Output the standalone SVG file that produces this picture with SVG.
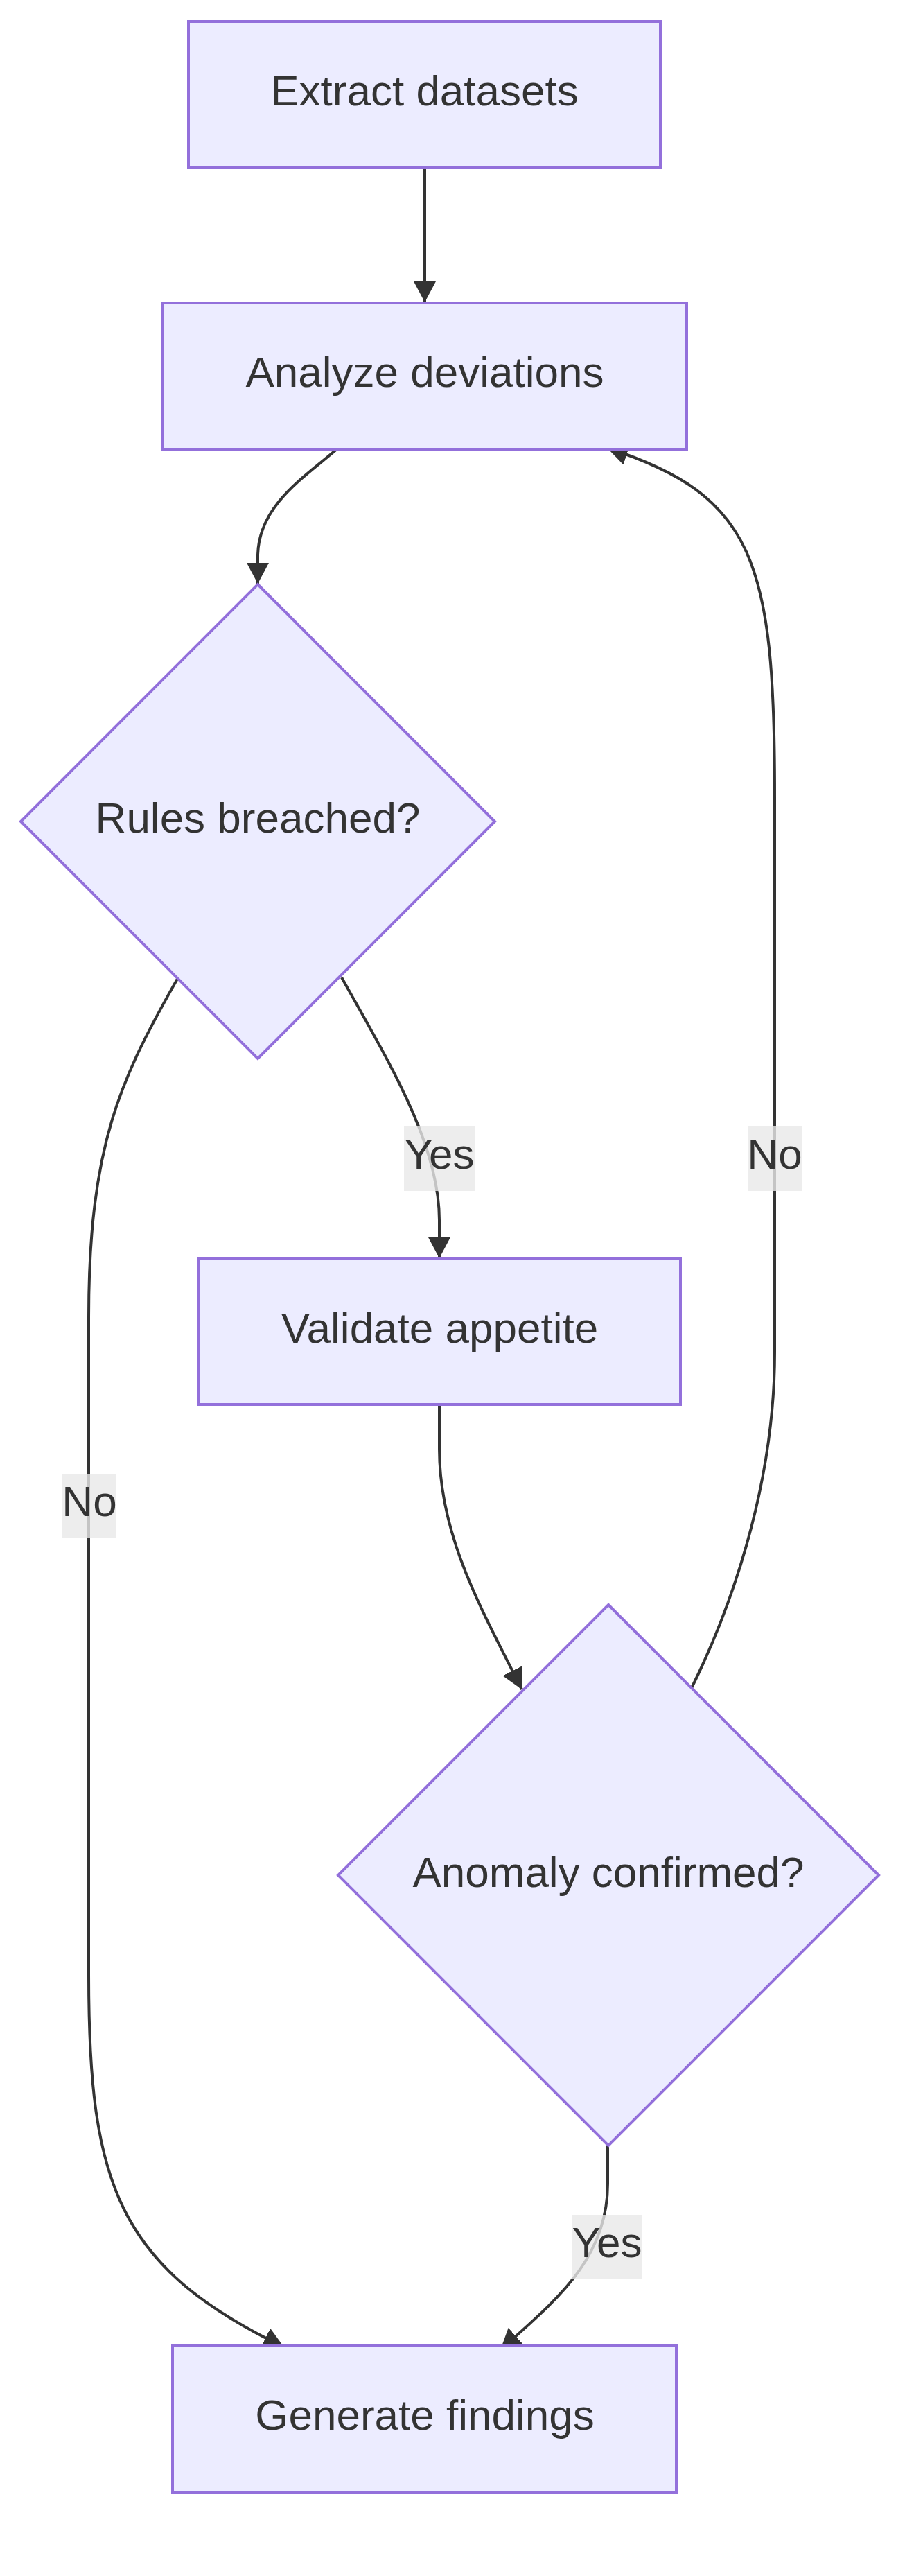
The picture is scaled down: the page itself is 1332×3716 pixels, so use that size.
<svg xmlns="http://www.w3.org/2000/svg" width="1332" height="3716" viewBox="0 0 1332 3716">
<style>
.node rect, .node polygon { fill: #ECECFF; stroke: #9370DB; stroke-width: 4; }
.node text, .lbl text { font-family: "Liberation Sans", Arial, sans-serif; font-size: 62px; fill: #333333; text-anchor: middle; }
.edge { fill: none; stroke: #333333; stroke-width: 4; marker-end: url(#arrow); }
.lbl rect { fill: #e8e8e8; fill-opacity: 0.8; }
</style>
<defs>
<marker id="arrow" markerUnits="userSpaceOnUse" markerWidth="30" markerHeight="32" refX="30" refY="16" orient="auto" viewBox="0 0 30 32">
<path d="M0,0 L30,16 L0,32 z" fill="#333333"/>
</marker>
</defs>
<rect width="1332" height="3716" fill="#ffffff"/>
<g id="connectors">
<path class="edge" d="M613,243 L613,436"/>
<path class="edge" d="M486,648 C440,688 374,728 372,800 L372,842"/>
<path class="edge" d="M998,2435 C1050,2330 1118,2150 1118,1950 L1118,1150 C1118,810 1090,715 876,646"/>
<path class="edge" d="M493,1410 C560,1530 634,1650 634,1760 L634,1815"/>
<path class="edge" d="M256,1412 C175,1555 128,1650 128,1900 L128,2850 C128,3150 170,3270 410,3386"/>
<path class="edge" d="M634,2027 L634,2090 C634,2220 700,2330 753,2437"/>
<path class="edge" d="M877,3096 L877,3150 C877,3260 800,3320 722,3390"/>
</g>
<g id="edge-labels">
<g class="lbl" id="label-yes-1"><rect x="583" y="1624" width="102" height="94"/><text x="634" y="1686">Yes</text></g>
<g class="lbl" id="label-no-right"><rect x="1079" y="1624" width="78" height="94"/><text x="1118" y="1686">No</text></g>
<g class="lbl" id="label-no-left"><rect x="90" y="2126" width="78" height="92"/><text x="129" y="2187">No</text></g>
<g class="lbl" id="label-yes-2"><rect x="826" y="3195" width="101" height="93"/><text x="876" y="3256">Yes</text></g>
</g>
<g class="node" id="extract"><rect x="272" y="31" width="681" height="211"/><text x="612.5" y="152">Extract datasets</text></g>
<g class="node" id="analyze"><rect x="235" y="437" width="756" height="211"/><text x="613" y="558">Analyze deviations</text></g>
<g class="node" id="rules"><polygon points="372,843 714,1185 372,1527 30,1185"/><text x="372" y="1201">Rules breached?</text></g>
<g class="node" id="validate"><rect x="287" y="1815" width="695" height="211"/><text x="634.5" y="1937">Validate appetite</text></g>
<g class="node" id="anomaly"><polygon points="878,2315 1268,2705 878,3095 488,2705"/><text x="878" y="2722">Anomaly confirmed?</text></g>
<g class="node" id="generate"><rect x="249" y="3384" width="727" height="211"/><text x="613" y="3505">Generate findings</text></g>
</svg>
